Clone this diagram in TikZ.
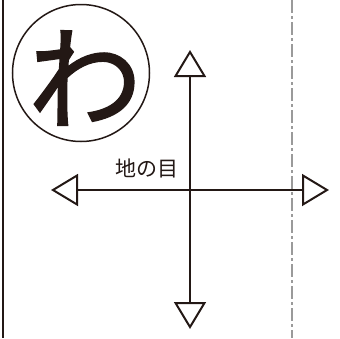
\documentclass[tikz,border=0pt]{standalone}
\usepackage{xcolor}
\usepackage{fontspec}
\usepackage{tikz}
\usetikzlibrary{arrows.meta}
\newfontfamily\cjk{Noto Sans CJK JP}
\newfontfamily\cjkmark[FakeBold=1.2]{Noto Sans CJK JP}
\definecolor{ink}{HTML}{231815}
\definecolor{foldgray}{HTML}{9A9A9A}

\begin{document}
\begin{tikzpicture}[x=1pt, y=-1pt,
    grain/.style={{Triangle[open,length=27pt,width=32pt]}-{Triangle[open,length=27pt,width=32pt]}, draw=ink, line width=2pt}]
    % grain arrow ends with absolute coordinates
    \useasboundingbox (0,0) rectangle (340,338);
    \coordinate (t) at (190,50);
    \coordinate (b) at (190,329);
    \coordinate (l) at (51,190);
    \coordinate (r) at (329,190);
    \coordinate (edgetop) at (2.5,0);
    \coordinate (edgebot) at (2.5,338);
    \coordinate (foldtop) at (292,0);
    \coordinate (foldbot) at (292,338);
    \node[circle, draw=ink, line width=1.5pt, minimum size=137pt, inner sep=0pt] (mark) at (81,73) {};
    \node[text=ink, font=\cjkmark\fontsize{114}{114}\selectfont, inner sep=0pt] (wa) at (85,78) {わ};
    \node[text=ink, font=\cjk\fontsize{21}{21}\selectfont, inner sep=0pt] (label) at (147,168) {地の目};
    \draw[ink, line width=2pt] (edgetop) -- (edgebot);
    \draw[foldgray, line width=2.5pt, dash pattern=on 13pt off 3pt on 3pt off 3pt] (foldtop) -- (foldbot);
    \draw[grain] (l) -- (r);
    \draw[grain] (t) -- (b);
\end{tikzpicture}
\end{document}
